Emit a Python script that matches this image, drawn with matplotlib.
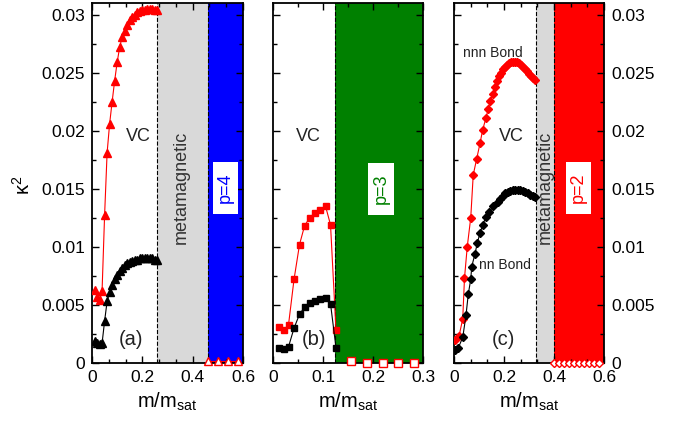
import numpy as np
import matplotlib
matplotlib.use("Agg")
import matplotlib.pyplot as plt
from matplotlib.patches import Rectangle
from matplotlib.ticker import MultipleLocator

plt.rcParams['font.family'] = ['Liberation Sans', 'DejaVu Sans']

# ---- panel (a): p=4 ----
xa = [0.01, 0.02, 0.03, 0.04, 0.05, 0.06, 0.07, 0.08, 0.09, 0.10, 0.11, 0.12, 0.13,
      0.14, 0.15, 0.16, 0.17, 0.18, 0.19, 0.20, 0.21, 0.22, 0.23, 0.24, 0.25, 0.26]
nnn_a = [0.0063, 0.0057, 0.0054, 0.0062, 0.0127, 0.0181, 0.0206, 0.0225, 0.0243, 0.0259,
         0.0272, 0.0281, 0.0286, 0.0291, 0.0295, 0.0298, 0.0300, 0.0302, 0.0303, 0.0304,
         0.0304, 0.0305, 0.0305, 0.0305, 0.0304, 0.0304]
nn_a = [0.0019, 0.0017, 0.0016, 0.0017, 0.0036, 0.0053, 0.0061, 0.0067, 0.0072, 0.0076,
        0.0079, 0.0082, 0.0084, 0.0086, 0.0087, 0.0088, 0.0089, 0.0089, 0.0090, 0.0090,
        0.0090, 0.0090, 0.0090, 0.0090, 0.0089, 0.0089]
xa_open = [0.46, 0.50, 0.54, 0.58]
ya_open = [0.0002, 0.0002, 0.0002, 0.0002]

# ---- panel (b): p=3 ----
xb = [0.011, 0.021, 0.031, 0.042, 0.053, 0.063, 0.073, 0.083, 0.093, 0.105, 0.115, 0.126]
nnn_b = [0.0031, 0.0028, 0.0033, 0.0072, 0.0102, 0.0118, 0.0125, 0.0129, 0.0132, 0.0135,
         0.0119, 0.0028]
nn_b = [0.0013, 0.0012, 0.0014, 0.0030, 0.0042, 0.0048, 0.0052, 0.0053, 0.0055, 0.0056,
        0.0051, 0.0013]
xb_open = [0.156, 0.1875, 0.219, 0.25, 0.281]
yb_open = [0.0002, 0.0, 0.0, 0.0, 0.0]

# ---- panel (c): p=2 ----
xc_nnn = [0.005, 0.02, 0.035, 0.042, 0.053, 0.067, 0.077, 0.091, 0.104, 0.115, 0.128, 0.137,
          0.146, 0.155, 0.164, 0.172, 0.18, 0.188, 0.196, 0.204, 0.212, 0.22, 0.228, 0.236,
          0.244, 0.252, 0.26, 0.268, 0.276, 0.284, 0.292, 0.30, 0.308, 0.316, 0.324]
nnn_c = [0.0020, 0.0023, 0.0038, 0.0073, 0.0100, 0.0125, 0.0162, 0.0176, 0.0189, 0.0201,
         0.0211, 0.0219, 0.0226, 0.0232, 0.0238, 0.0243, 0.0247, 0.0250, 0.0253, 0.0255,
         0.0257, 0.0258, 0.0259, 0.0259, 0.0259, 0.0259, 0.0258, 0.0257, 0.0255, 0.0253,
         0.0251, 0.0249, 0.0247, 0.0245, 0.0244]
xc_nn = [0.005, 0.017, 0.035, 0.048, 0.057, 0.067, 0.071, 0.084, 0.093, 0.104, 0.115, 0.128,
         0.141, 0.157, 0.177, 0.185, 0.195, 0.205, 0.215, 0.225, 0.235, 0.245, 0.255, 0.265,
         0.275, 0.285, 0.295, 0.305, 0.315, 0.324]
nn_c = [0.0011, 0.0013, 0.0022, 0.0041, 0.0059, 0.0072, 0.0083, 0.0094, 0.0103, 0.0112,
        0.0119, 0.0126, 0.0130, 0.0135, 0.0139, 0.01415, 0.0144, 0.0146, 0.0147, 0.0148,
        0.0149, 0.0149, 0.0149, 0.0149, 0.0148, 0.0147, 0.0146, 0.0145, 0.0144, 0.0143]
xc_open = [0.40, 0.42, 0.44, 0.46, 0.48, 0.50, 0.52, 0.54, 0.56, 0.58]
yc_open = [0.0] * 10

yticks = [0, 0.005, 0.01, 0.015, 0.02, 0.025, 0.03]
ytick_labels = ['0', '0.005', '0.01', '0.015', '0.02', '0.025', '0.03']

GREY = '#d9d9d9'

fig = plt.figure(figsize=(6.78, 4.24), dpi=100)
ax_a = fig.add_axes([0.1357, 0.1439, 0.2227, 0.8491])
ax_b = fig.add_axes([0.4027, 0.1439, 0.2212, 0.8491])
ax_c = fig.add_axes([0.6696, 0.1439, 0.2212, 0.8491])


def style_axis(ax, xmax, xmajor, xminor, xlabels):
    ax.set_xlim(0, xmax)
    ax.set_ylim(0, 0.031)
    ax.set_xticks(np.arange(0, xmax + 1e-9, xmajor))
    ax.set_xticklabels(xlabels)
    ax.xaxis.set_minor_locator(MultipleLocator(xminor))
    ax.set_yticks(yticks)
    ax.set_yticklabels(ytick_labels)
    ax.yaxis.set_minor_locator(MultipleLocator(0.0025))
    ax.tick_params(which='both', direction='in', top=True, right=True, width=1,
                   labelsize=12.5, pad=5)
    ax.tick_params(which='major', length=5)
    ax.tick_params(which='minor', length=3)
    for s in ax.spines.values():
        s.set_linewidth(1.3)
    ax.set_xlabel('m/m$_\\mathregular{sat}$', fontsize=14.5, labelpad=4)


def label_box(ax, x0, x1, y0, y1, text, color):
    ax.add_patch(Rectangle((x0, y0), x1 - x0, y1 - y0, facecolor='white',
                           edgecolor='none', zorder=2))
    ax.text((x0 + x1) / 2, (y0 + y1) / 2, text, rotation=90, color=color,
            fontsize=13, ha='center', va='center', zorder=3)


# (a)
ax = ax_a
ax.axvspan(0.26, 0.46, color=GREY, lw=0, zorder=0)
ax.axvspan(0.46, 0.6, color='blue', lw=0, zorder=0)
for xv in (0.26, 0.46):
    ax.axvline(xv, color='k', ls='--', lw=0.8, zorder=1)
ax.plot(xa, nnn_a, '-^', color='red', ms=5.5, lw=0.8, zorder=4)
ax.plot(xa, nn_a, '-^', color='black', ms=5.5, lw=0.8, zorder=4)
ax.plot(xa_open, ya_open, '-^', color='red', mfc='white', mec='red', ms=5.5,
        lw=0.8, clip_on=False, zorder=5)
ax.text(0.356, 0.0151, 'metamagnetic', rotation=90, fontsize=13, color='#333333',
        ha='center', va='center')
label_box(ax, 0.482, 0.581, 0.01284, 0.01727, 'p=4', 'blue')
ax.text(0.183, 0.0195, 'VC', fontsize=13, ha='center', va='center', color='#222222')
ax.text(0.155, 0.0020, '(a)', fontsize=14.5, ha='center', va='center', color='#222222')
style_axis(ax, 0.6, 0.2, 0.2 / 3, ['0', '0.2', '0.4', '0.6'])

# (b)
ax = ax_b
ax.axvspan(0.124, 0.3, color='#008000', lw=0, zorder=0)
ax.axvline(0.124, color='k', ls='--', lw=0.8, zorder=1)
ax.plot(xb, nnn_b, '-s', color='red', ms=5, lw=0.8, zorder=4)
ax.plot(xb, nn_b, '-s', color='black', ms=5, lw=0.8, zorder=4)
ax.plot(xb_open, yb_open, 's', color='red', mfc='white', mec='red', ms=5.5,
        clip_on=False, zorder=5)
label_box(ax, 0.19, 0.242, 0.01277, 0.01722, 'p=3', '#008000')
ax.text(0.07, 0.0195, 'VC', fontsize=13, ha='center', va='center', color='#222222')
ax.text(0.082, 0.0020, '(b)', fontsize=14.5, ha='center', va='center', color='#222222')
style_axis(ax, 0.3, 0.1, 0.05, ['0', '0.1', '0.2', '0.3'])
ax.tick_params(labelleft=False)

# (c)
ax = ax_c
ax.axvspan(0.327, 0.4, color=GREY, lw=0, zorder=0)
ax.axvspan(0.4, 0.6, color='red', lw=0, zorder=0)
for xv in (0.327, 0.4):
    ax.axvline(xv, color='k', ls='--', lw=0.8, zorder=1)
ax.plot(xc_nnn, nnn_c, '-D', color='red', ms=4.5, lw=0.8, zorder=4)
ax.plot(xc_nn, nn_c, '-D', color='black', ms=4.5, lw=0.8, zorder=4)
ax.plot(xc_open, yc_open, '-D', color='red', mfc='white', mec='red', ms=4.5,
        lw=0.8, clip_on=False, zorder=5)
ax.text(0.364, 0.0151, 'metamagnetic', rotation=90, fontsize=13, color='#333333',
        ha='center', va='center')
label_box(ax, 0.448, 0.547, 0.01284, 0.01727, 'p=2', 'red')
ax.text(0.228, 0.0195, 'VC', fontsize=13, ha='center', va='center', color='#222222')
ax.text(0.196, 0.0020, '(c)', fontsize=14.5, ha='center', va='center', color='#222222')
ax.text(0.156, 0.0267, 'nnn Bond', fontsize=10, ha='center', va='center', color='#222222')
ax.text(0.204, 0.00845, 'nn Bond', fontsize=10, ha='center', va='center', color='#222222')
style_axis(ax, 0.6, 0.2, 0.2 / 3, ['0', '0.2', '0.4', '0.6'])
ax.tick_params(labelleft=False, labelright=True)

fig.text(23 / 678, 1 - 185 / 424, '\u03ba$^\\mathregular{2}$', rotation=90,
         fontsize=14.5, ha='center', va='center')

fig.savefig('out.png', dpi=100)
